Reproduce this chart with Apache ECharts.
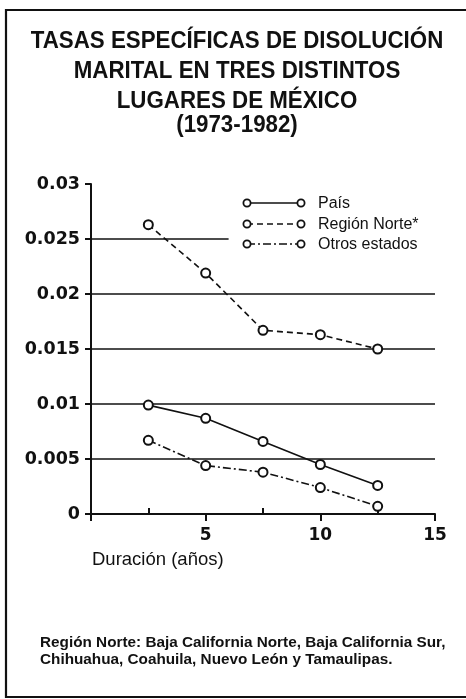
<!DOCTYPE html>
<html><head><meta charset="utf-8">
<script src="https://cdn.jsdelivr.net/npm/echarts@6/dist/echarts.min.js"></script>
<style>html,body{margin:0;padding:0;background:#fff}#c{width:466px;height:699px}</style>
</head><body><div id="c"></div>
<script>
// ---- data ----
const titleLines = ['TASAS ESPECÍFICAS DE DISOLUCIÓN', 'MARITAL EN TRES DISTINTOS', 'LUGARES DE MÉXICO', '(1973-1982)'];
const xValues = [2.5, 5, 7.5, 10, 12.5];
const seriesNames = ['País', 'Región Norte*', 'Otros estados'];
const pais = [0.0099, 0.0087, 0.0066, 0.0045, 0.0026];
const norte = [0.0263, 0.0219, 0.0167, 0.0163, 0.0150];
const otros = [0.0067, 0.0044, 0.0038, 0.0024, 0.0007];
const yTickLabels = ['0', '0.005', '0.01', '0.015', '0.02', '0.025', '0.03'];
const xTickLabels = ['', '5', '10', '15'];
const fullGridShown = [false, true, true, true, true, false, false]; // per y tick
const shortGridValue = 0.025;
const shortGridEnd = 6;
const xAxisName = 'Duración (años)';
const noteLines = ['Región Norte: Baja California Norte, Baja California Sur,', 'Chihuahua, Coahuila, Nuevo León y Tamaulipas.'];

// ---- styles ----
const dashTypes = ['solid', [6, 4], [8, 3, 2, 3]];
const BLACK = '#111';
const chart = echarts.init(document.getElementById('c'), null, {renderer: 'canvas'});

const seriesData = [pais, norte, otros];
const series = seriesData.map((vals, i) => ({
  name: seriesNames[i],
  type: 'line',
  data: xValues.map((x, j) => [x, vals[j]]),
  symbol: 'circle',
  symbolSize: 9,
  showSymbol: true,
  animation: false,
  z: 5,
  itemStyle: {color: '#fff', borderColor: BLACK, borderWidth: 2},
  lineStyle: {color: BLACK, width: 1.6, type: dashTypes[i]},
  emphasis: {disabled: true}
}));
// the short 0.025 gridline (stops before the legend)
series[1].markLine = {
  silent: true, symbol: 'none', animation: false, z: 1,
  label: {show: false},
  lineStyle: {color: BLACK, width: 1.6, type: 'solid'},
  data: [[{coord: [0, shortGridValue]}, {coord: [shortGridEnd, shortGridValue]}]]
};

const legendRows = [203, 224, 244];
const legendGraphics = [];
seriesNames.forEach((n, i) => {
  const y = legendRows[i];
  legendGraphics.push({type: 'line', shape: {x1: 247, y1: y, x2: 301, y2: y},
    style: {stroke: BLACK, lineWidth: 1.4, lineDash: dashTypes[i] === 'solid' ? null : dashTypes[i]}});
  [247, 301].forEach(cx => legendGraphics.push({type: 'circle', shape: {cx: cx, cy: y, r: 3.6},
    style: {fill: '#fff', stroke: BLACK, lineWidth: 1.8}, z: 10}));
  legendGraphics.push({type: 'text', style: {text: n, x: 318, y: y + 1, align: 'left', verticalAlign: 'middle',
    font: '16px "Liberation Sans", Arial, sans-serif', fill: BLACK}});
});

const titleY = [41, 71, 101, 125];
const titleGraphics = titleLines.map((t, i) => ({type: 'text', x: 237, y: titleY[i], scaleX: 0.93,
  style: {text: t, x: 0, y: 0, align: 'center', verticalAlign: 'middle',
  font: 'bold 24px "Liberation Sans", Arial, sans-serif', fill: BLACK}}));

const noteGraphics = noteLines.map((t, i) => ({type: 'text', style: {text: t, x: 40, y: 643 + i * 17, align: 'left', verticalAlign: 'middle',
  font: 'bold 15.3px "Liberation Sans", Arial, sans-serif', fill: BLACK}}));

chart.setOption({
  animation: false,
  backgroundColor: '#fff',
  grid: {left: 91, right: 31, top: 184, bottom: 185, containLabel: false},
  xAxis: [{
    type: 'value', min: 0, max: 15, interval: 5, z: 3,
    axisLine: {lineStyle: {color: BLACK, width: 2}},
    axisTick: {length: 7, lineStyle: {color: BLACK, width: 2}},
    axisLabel: {color: BLACK, margin: 13, fontFamily: '"DejaVu Sans", sans-serif', fontWeight: 'bold', fontSize: 17,
      formatter: (v) => xTickLabels[Math.round(v / 5)]},
    splitLine: {show: false}
  }, {
    type: 'value', min: 0, max: 15, interval: 5, position: 'top', offset: -330,
    axisLine: {show: false},
    axisTick: {show: false},
    minorTick: {show: true, splitNumber: 2, length: 6, lineStyle: {color: BLACK, width: 2}},
    axisLabel: {show: false},
    splitLine: {show: false}
  }],
  yAxis: {
    type: 'value', min: 0, max: 0.03, interval: 0.005,
    axisLine: {show: true, lineStyle: {color: BLACK, width: 2}},
    axisTick: {show: true, length: 6, lineStyle: {color: BLACK, width: 2}},
    axisLabel: {color: BLACK, margin: 11, fontFamily: '"DejaVu Sans", sans-serif', fontWeight: 'bold', fontSize: 17.5,
      formatter: (v) => yTickLabels[Math.round(v / 0.005)]},
    splitLine: {show: true, showMinLine: true, showMaxLine: true,
      lineStyle: {width: 1.6, color: fullGridShown.map(s => s ? BLACK : 'rgba(0,0,0,0)')}}
  },
  series: series,
  graphic: [
    {type: 'polyline', shape: {points: [[470, 10], [6, 10], [6, 697], [470, 697]]}, style: {stroke: BLACK, lineWidth: 2.2, fill: null}},
    {type: 'text', style: {text: xAxisName, x: 92, y: 560, align: 'left', verticalAlign: 'middle',
      font: '18.5px "Liberation Sans", Arial, sans-serif', fill: BLACK}}
  ].concat(titleGraphics, legendGraphics, noteGraphics)
});
</script></body></html>
